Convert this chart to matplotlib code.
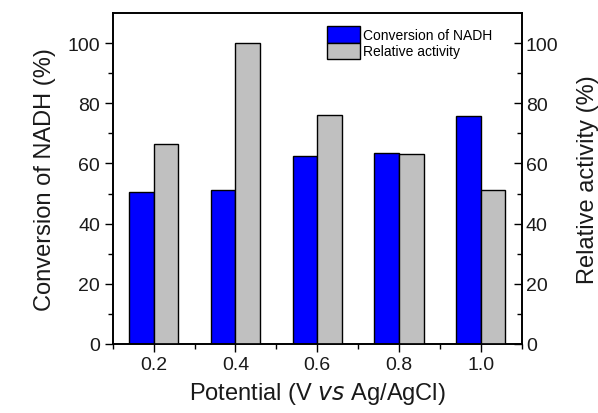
import matplotlib
matplotlib.use("Agg")
import matplotlib.pyplot as plt
import matplotlib.ticker as ticker
from matplotlib.patches import Patch

potential = [0.2, 0.4, 0.6, 0.8, 1.0]
conversion = [50.4, 51.2, 62.4, 63.4, 75.8]
activity = [66.3, 100.0, 76.1, 63.0, 51.2]

plt.rcParams["font.family"] = ["Liberation Sans", "DejaVu Sans"]

BLUE = "#0000ff"
GRAY = "#c0c0c0"
width = 0.06

fig = plt.figure(figsize=(5.98, 4.14), dpi=100)
ax = fig.add_axes([0.1885, 0.1667, 0.6839, 0.7995])
ax2 = ax.twinx()

ax.bar([p - width / 2 for p in potential], conversion, width=width,
       color=BLUE, edgecolor="black", linewidth=1.0)
ax2.bar([p + width / 2 for p in potential], activity, width=width,
        color=GRAY, edgecolor="black", linewidth=1.0)

ax.set_xlim(0.1, 1.1)
ax.set_ylim(0, 110)
ax2.set_ylim(0, 110)

ax.set_xticks(potential)
ax.set_xticklabels(["0.2", "0.4", "0.6", "0.8", "1.0"])
ax.xaxis.set_minor_locator(ticker.FixedLocator([0.1, 0.3, 0.5, 0.7, 0.9, 1.1]))
for a in (ax, ax2):
    a.yaxis.set_major_locator(ticker.FixedLocator([0, 20, 40, 60, 80, 100]))
    a.yaxis.set_minor_locator(ticker.FixedLocator([10, 30, 50, 70, 90]))

ax.tick_params(axis="both", which="major", direction="out", length=6, width=1.0,
               labelsize=14, pad=3, top=False, labelcolor="#1a1a1a")
ax.tick_params(axis="both", which="minor", direction="out", length=3.5, width=1.0)
ax2.tick_params(axis="y", which="major", direction="in", length=6, width=1.0,
                labelsize=14, pad=3, labelcolor="#1a1a1a")
ax2.tick_params(axis="y", which="minor", direction="in", length=3.5, width=1.0)

for a in (ax, ax2):
    for s in a.spines.values():
        s.set_linewidth(1.2)

ax.set_xlabel(r"Potential (V $\it{vs}$ Ag/AgCl)", fontsize=17, labelpad=5,
              color="#1a1a1a")
ax.set_ylabel("Conversion of NADH (%)", fontsize=17, labelpad=8, color="#1a1a1a")
ax2.set_ylabel("Relative activity (%)", fontsize=17, labelpad=13, color="#1a1a1a")

handles = [Patch(facecolor=BLUE, edgecolor="black", linewidth=1.0),
           Patch(facecolor=GRAY, edgecolor="black", linewidth=1.0)]
ax2.legend(handles, ["Conversion of NADH", "Relative activity"],
           loc="upper left", bbox_to_anchor=(0.5, 0.99), frameon=False,
           fontsize=10, handlelength=2.4, handleheight=1.45, handletextpad=0.2,
           labelspacing=0.0, borderaxespad=0.3)

fig.savefig("out.png", dpi=100, facecolor="white")
